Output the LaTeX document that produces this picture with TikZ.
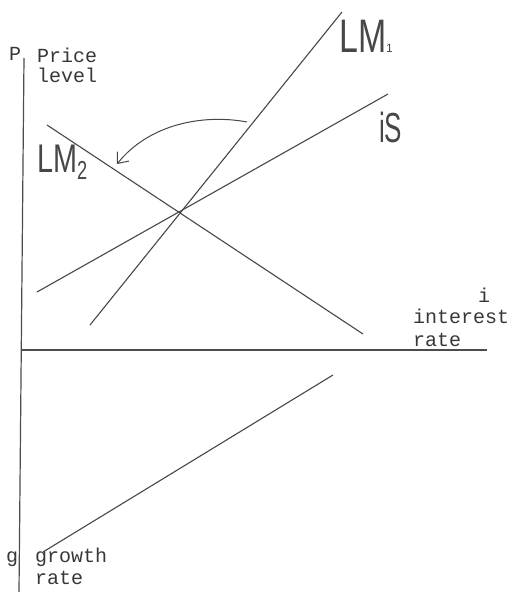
\documentclass[tikz,border=0pt]{standalone}
\usepackage{fontspec}
\usepackage{graphicx}
\usetikzlibrary{arrows.meta}
\newfontfamily\typew{Liberation Mono}
\newfontfamily\handf{Liberation Sans}
\tikzset{
  curve/.style={line width=1.1pt, draw=black!72},
  axisline/.style={line width=1.2pt, draw=black!70},
  typed/.style={inner sep=0pt, anchor=base west, text=black!78, font=\typew\fontsize{20}{20}\selectfont},
  hand/.style={inner sep=0pt, anchor=base west, text=black!72},
}
\begin{document}
\begin{tikzpicture}[x=1pt,y=-1pt]
\useasboundingbox (0,0) rectangle (519,592);
% axes
\coordinate (vtop) at (24,58);
\coordinate (vbot) at (19,592);
\coordinate (hleft) at (22,350);
\coordinate (hright) at (487,350);
\draw[axisline] (vtop) -- (vbot);
\draw[axisline] (hleft) -- (hright);
% curves
\coordinate (lm1a) at (90,325);
\coordinate (lm1b) at (342,12);
\coordinate (isa) at (37,292);
\coordinate (isb) at (388,94);
\coordinate (lm2a) at (47,125);
\coordinate (lm2b) at (363,334);
\coordinate (gra) at (43,552);
\coordinate (grb) at (333,375);
\draw[curve] (lm1a) -- (lm1b);
\draw[curve] (isa) -- (isb);
\draw[curve] (lm2a) -- (lm2b);
\draw[curve] (gra) -- (grb);
% shift arrow
\coordinate (arrS) at (247,122);
\coordinate (arrE) at (117,164);
\draw[line width=1pt, draw=black!72, -{Straight Barb[length=9pt,width=15pt,line width=1pt]}]
  (arrS) .. controls (205,114) and (150,123) .. (arrE);
% typed labels
\node[typed] (plab) at (9,60) {P};
\node[typed] (price) at (37,62) {Price};
\node[typed] (level) at (37,82) {level};
\node[typed] (ilab) at (478,302) {i};
\node[typed] (interest) at (413,323) {interest};
\node[typed] (rate1) at (413,346) {rate};
\node[typed] (glab) at (6,562) {g};
\node[typed] (growth) at (35,562) {growth};
\node[typed] (rate2) at (35,584) {rate};
% handwritten labels
\node[hand] (lm1lab) at (339,52) {\handf\fontsize{47}{47}\selectfont\scalebox{0.72}[1]{LM}\fontsize{12}{12}\selectfont 1};
\node[hand] (lm2lab) at (37,172) {\handf\fontsize{40}{40}\selectfont\scalebox{0.72}[1]{LM}\raisebox{-7pt}{\fontsize{26}{26}\selectfont\scalebox{0.7}[1]{2}}};
\node[hand] (islab) at (379,142) {\handf\fontsize{42}{42}\selectfont\scalebox{0.62}[1]{iS}};
\end{tikzpicture}
\end{document}
